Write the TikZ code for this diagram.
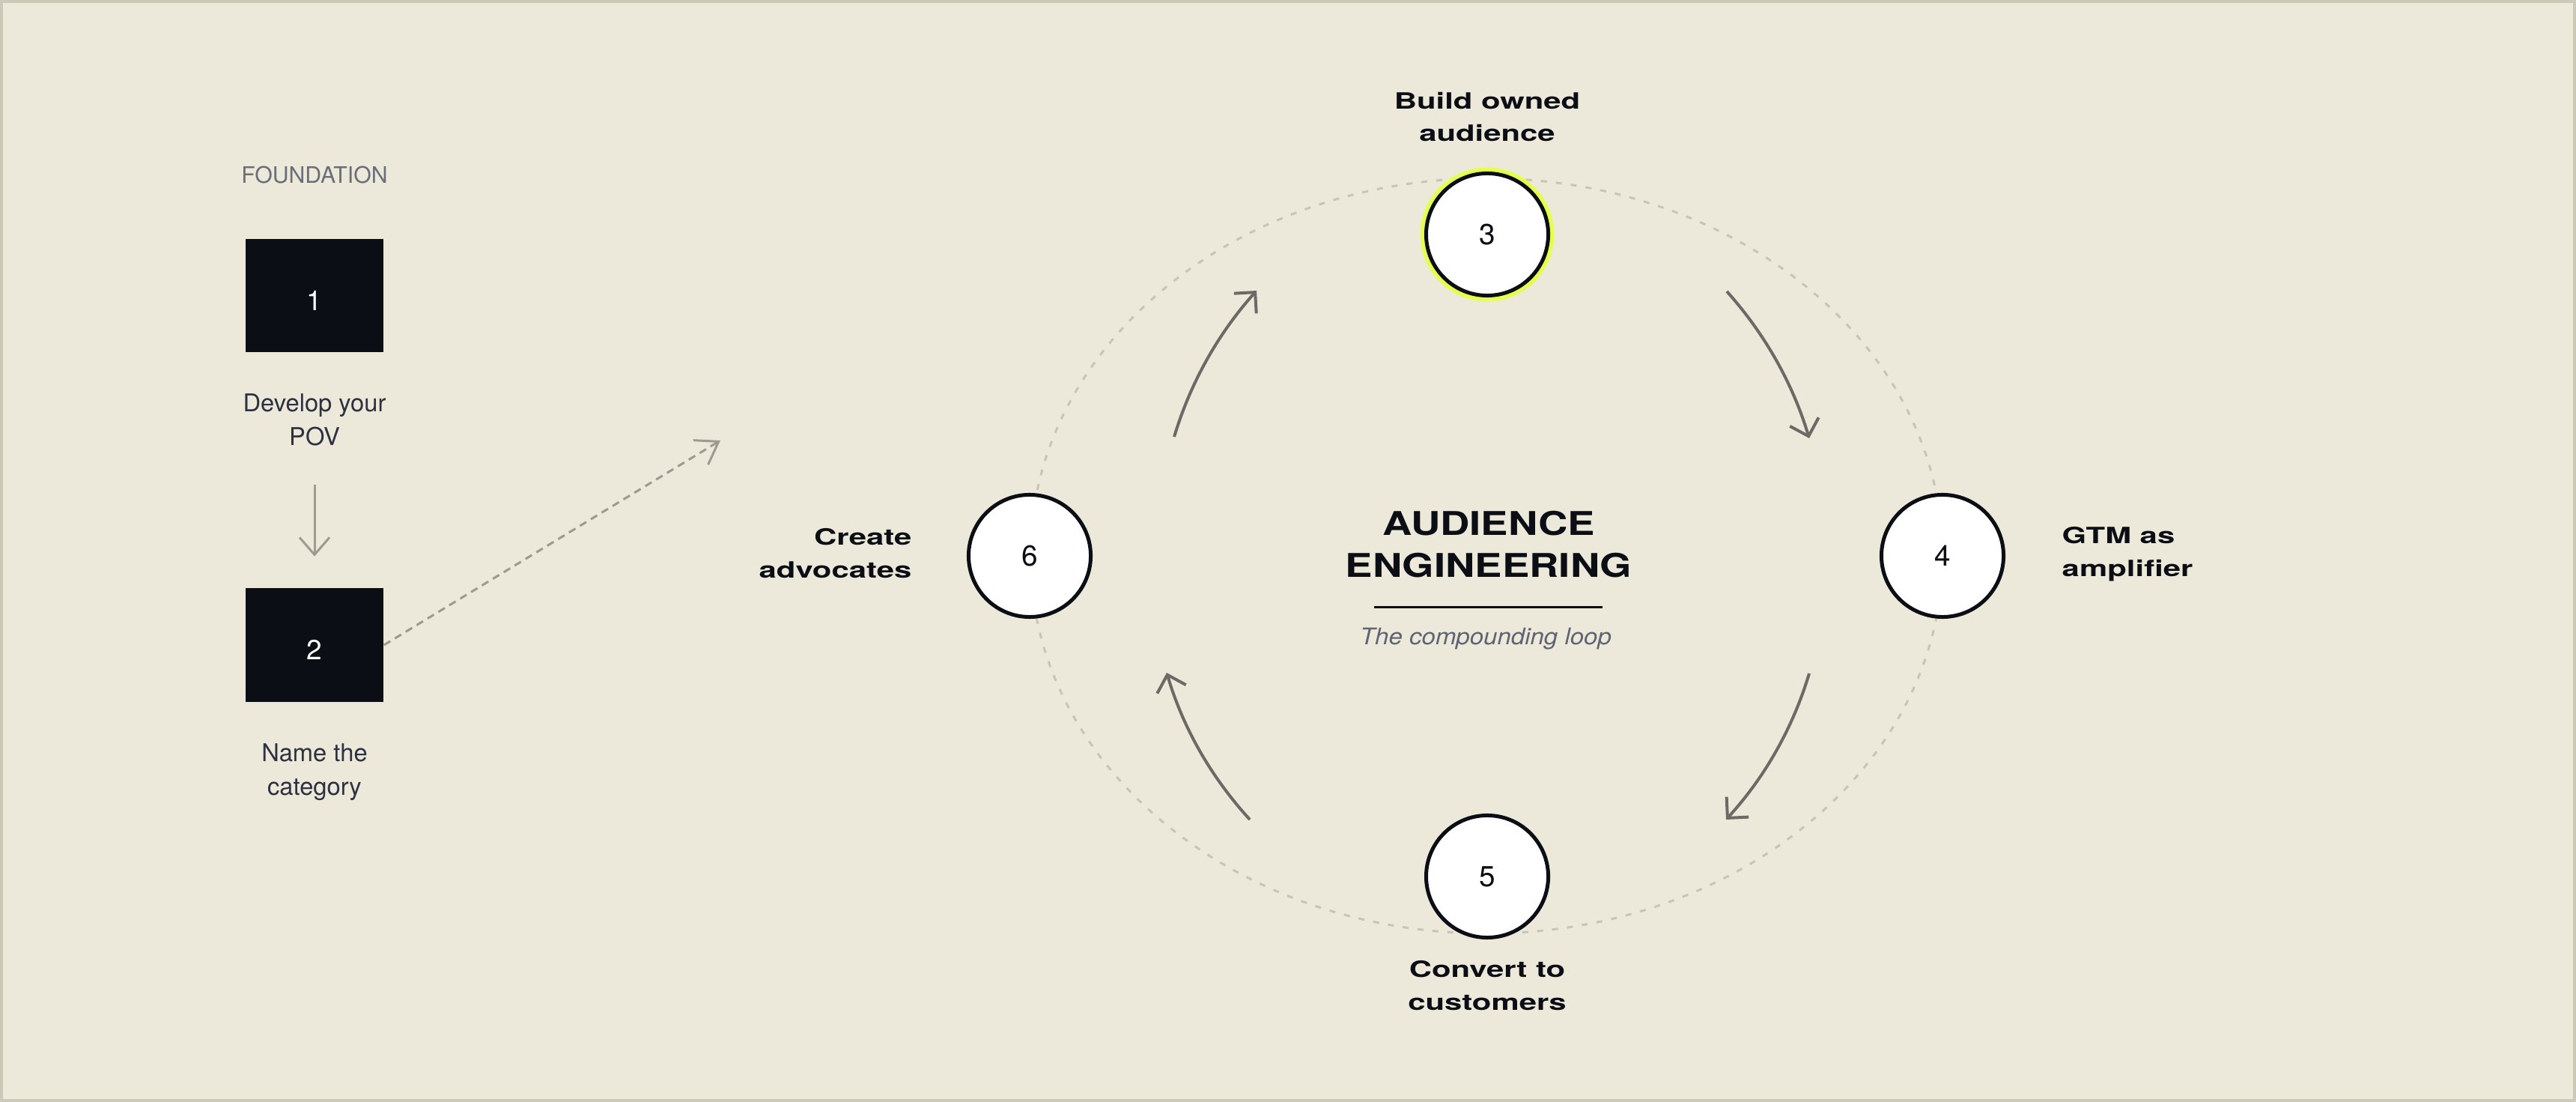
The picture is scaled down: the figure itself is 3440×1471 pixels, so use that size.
\documentclass[tikz,border=0pt]{standalone}
\usepackage{fontspec}
\setmainfont{TeX Gyre Heros}
\newfontfamily\widefont[FakeStretch=1.4]{TeX Gyre Heros}
\newfontfamily\titlefont[FakeStretch=1.25]{TeX Gyre Heros}
\newfontfamily\subfont[FakeStretch=1.08]{TeX Gyre Heros}
\usetikzlibrary{arrows.meta}
\definecolor{bg}{HTML}{EDE9DA}
\definecolor{frame}{HTML}{CDC9B9}
\definecolor{ink}{HTML}{0B0E14}
\definecolor{body}{HTML}{2E3140}
\definecolor{muted}{HTML}{6B6E78}
\definecolor{subc}{HTML}{5F6372}
\definecolor{loopc}{HTML}{C8C4B7}
\definecolor{arrc}{HTML}{6B6A66}
\definecolor{lightarr}{HTML}{9E9A8F}
\definecolor{lime}{HTML}{E4FF4F}
\tikzset{
  darkbox/.style={fill=ink, draw=none, minimum width=18.4mm, minimum height=15.1mm, inner sep=0pt},
  boxnum/.style={inner sep=0pt, text=white, font=\fontsize{10.5pt}{12pt}\selectfont},
  stepcircle/.style={circle, fill=white, draw=ink, line width=0.5mm, minimum size=16.3mm, inner sep=0pt,
    text=ink, font=\fontsize{11pt}{13pt}\selectfont},
  steplabel/.style={inner sep=0pt, text=ink, font=\widefont\bfseries\fontsize{8.5pt}{12.5pt}\selectfont},
  bodytext/.style={inner sep=0pt, text=body, align=center, font=\fontsize{9.3pt}{12.8pt}\selectfont},
  looparrow/.style={draw=arrc, line width=0.4mm, -{Straight Barb[length=2mm, width=4mm]}},
}
\begin{document}
\begin{tikzpicture}[x=0.01cm, y=-0.01cm]
\useasboundingbox (0,0) rectangle (3440,1471);
\fill[frame] (0,0) rectangle (3440,1471);
\fill[bg] (4,4) rectangle (3436,1467);

% foundation column
\node[inner sep=0pt, text=muted, font=\fontsize{8.6pt}{10pt}\selectfont] (found) at (420,233) {FOUNDATION};
\node[darkbox] (box1) at (420,394.5) {};
\node[boxnum] (n1) at (420,401) {1};
\node[bodytext] (t1) at (420,560) {Develop your\\POV};
\node[darkbox] (box2) at (420,861) {};
\node[boxnum] (n2) at (420,867) {2};
\node[bodytext] (t2) at (420,1031) {Name the\\category};
\draw[draw=lightarr, line width=0.3mm, shorten <=17.6mm, shorten >=4.2mm,
  -{Straight Barb[length=2.3mm, width=4mm]}] (box1.south) -- (box2.north);

\coordinate (dtip) at (962,588);
\draw[draw=lightarr, line width=0.3mm, dash pattern=on 1mm off 0.7mm,
  -{Straight Barb[length=2.8mm, width=3.8mm]}] (box2.east) -- (dtip);

% loop
\draw[draw=loopc, line width=0.3mm, dash pattern=on 0.8mm off 1.2mm] (1985,742) ellipse [x radius=609, y radius=504];

\draw[lime, line width=0.7mm] (1986,313) circle [radius=86];
\node[stepcircle] (c3) at (1986,313) {3};
\node[stepcircle] (c4) at (2594,742) {4};
\node[stepcircle] (c5) at (1986,1170) {5};
\node[stepcircle] (c6) at (1375,742) {6};

\node[steplabel, align=center] (l3) at (1986,156) {Build owned\\audience};
\node[steplabel, align=left, anchor=west] (l4) at (2753,740) {GTM as\\amplifier};
\node[steplabel, align=center] (l5) at (1986,1316) {Convert to\\customers};
\node[steplabel, align=right, anchor=east] (l6) at (1218,739) {Create\\advocates};

% centre
\node[inner sep=0pt, text=ink, align=center, font=\titlefont\bfseries\fontsize{12.4pt}{15.9pt}\selectfont] (title) at (1988,727) {AUDIENCE\\ENGINEERING};
\coordinate (rl) at (1835,811);
\coordinate (rr) at (2140,811);
\draw[ink, line width=0.3mm] (rl) -- (rr);
\node[inner sep=0pt, text=subc, font=\subfont\itshape\fontsize{8.7pt}{10pt}\selectfont] (sub) at (1984,853) {The compounding loop};

% curved arrows
\coordinate (a1s) at (1568,583); \coordinate (a1e) at (1678,388);
\coordinate (a2s) at (2306,389); \coordinate (a2e) at (2416,585);
\coordinate (a3s) at (2416,899); \coordinate (a3e) at (2305,1094);
\coordinate (a4s) at (1669,1094); \coordinate (a4e) at (1558,898);
\draw[looparrow] (a1s) .. controls (1590,510) and (1627,445) .. (a1e);
\draw[looparrow] (a2s) .. controls (2357,446) and (2394,512) .. (a2e);
\draw[looparrow] (a3s) .. controls (2394,972) and (2357,1037) .. (a3e);
\draw[looparrow] (a4s) .. controls (1617,1037) and (1580,972) .. (a4e);
\end{tikzpicture}
\end{document}
